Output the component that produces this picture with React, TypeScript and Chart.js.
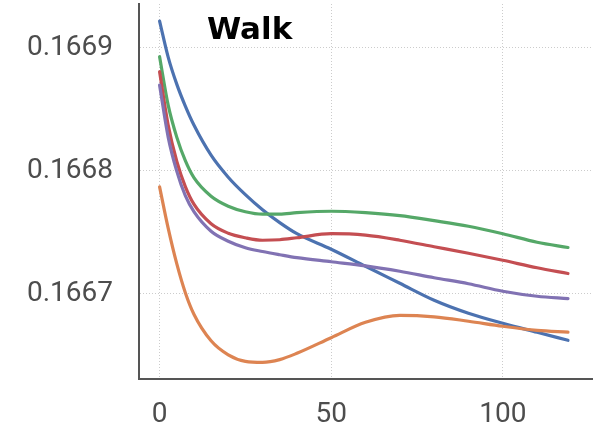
import React, { useEffect, useRef } from "react";
import { Chart, registerables } from "chart.js";

Chart.register(...registerables);

const TITLE = "Walk";
const xValues = [0, 2.5, 5, 7.5, 10, 15, 20, 25, 30, 35, 40, 50, 60, 70, 80, 90, 100, 110, 119];

const blueSeries = [
  0.1669217, 0.1668924, 0.1668704, 0.1668525, 0.1668371, 0.1668126, 0.1667947, 0.1667805, 0.1667682,
  0.1667577, 0.1667487, 0.1667361, 0.1667222, 0.1667084, 0.1666946, 0.166684, 0.1666758, 0.1666685,
  0.166662,
];
const orangeSeries = [
  0.1667868, 0.1667532, 0.1667243, 0.1667007, 0.1666832, 0.1666616, 0.1666502, 0.1666449, 0.1666441,
  0.1666463, 0.1666514, 0.1666641, 0.1666766, 0.1666823, 0.1666811, 0.1666775, 0.1666734, 0.1666701,
  0.1666687,
];
const greenSeries = [
  0.1668927, 0.1668533, 0.1668273, 0.1668081, 0.1667943, 0.1667792, 0.1667711, 0.1667666, 0.1667646,
  0.1667646, 0.1667658, 0.166767, 0.1667658, 0.1667634, 0.1667593, 0.1667548, 0.1667487, 0.1667418,
  0.1667375,
];
const redSeries = [
  0.1668805, 0.1668371, 0.1668077, 0.166787, 0.1667727, 0.1667568, 0.1667491, 0.1667454, 0.1667434,
  0.1667438, 0.1667454, 0.1667487, 0.1667475, 0.1667434, 0.1667381, 0.1667328, 0.1667271, 0.166721,
  0.1667163,
];
const purpleSeries = [
  0.1668696, 0.1668273, 0.1667996, 0.1667796, 0.1667666, 0.1667507, 0.1667426, 0.1667373, 0.1667342,
  0.1667316, 0.1667292, 0.1667259, 0.1667226, 0.1667182, 0.1667129, 0.166708, 0.1667019, 0.1666978,
  0.1666959,
];

const xTicks = [0, 50, 100];
const yTicks = [0.1667, 0.1668, 0.1669];

const series = [
  { name: "blue", data: blueSeries, color: "#4C72B0", order: 5 },
  { name: "orange", data: orangeSeries, color: "#DD8452", order: 4 },
  { name: "green", data: greenSeries, color: "#55A868", order: 3 },
  { name: "red", data: redSeries, color: "#C44E52", order: 2 },
  { name: "purple", data: purpleSeries, color: "#8172B3", order: 1 },
];

const titlePlugin = {
  id: "insideTitle",
  afterDraw(chart: any) {
    const { ctx, chartArea } = chart;
    ctx.save();
    ctx.font = "bold 31px 'DejaVu Sans'";
    ctx.fillStyle = "#000";
    ctx.textAlign = "left";
    ctx.textBaseline = "alphabetic";
    ctx.fillText(TITLE, chartArea.left + 68, chartArea.top + 34.5);
    ctx.restore();
  },
};

export default function App() {
  const ref = useRef<HTMLCanvasElement | null>(null);
  useEffect(() => {
    if (!ref.current) return;
    const chart = new Chart(ref.current, {
      type: "line",
      data: {
        datasets: series.map((s) => ({
          label: s.name,
          data: xValues.map((x, i) => ({ x, y: s.data[i] })),
          borderColor: s.color,
          backgroundColor: s.color,
          borderWidth: 3.2,
          borderCapStyle: "round" as const,
          borderJoinStyle: "round" as const,
          pointRadius: 0,
          cubicInterpolationMode: "monotone" as const,
          fill: false,
          order: s.order,
        })),
      },
      options: {
        animation: false,
        responsive: true,
        maintainAspectRatio: false,
        layout: { padding: { top: 4, right: 2, left: 0, bottom: 0 } },
        plugins: { legend: { display: false }, tooltip: { enabled: false }, title: { display: false } },
        scales: {
          x: {
            type: "linear",
            min: -6,
            max: 126,
            afterBuildTicks: (scale: any) => {
              scale.ticks = xTicks.map((v) => ({ value: v }));
            },
            afterFit: (scale: any) => {
              scale.height = 47;
              scale.paddingLeft = 0;
              scale.paddingRight = 0;
            },
            grid: {
              color: "#cccccc",
              lineWidth: 1,
              drawTicks: false,
              tickLength: 0,
            },
            border: { display: true, color: "#555555", width: 2, dash: [1, 2] },
            ticks: {
              padding: 19,
              color: "#4d4d4d",
              font: { family: "Roboto", size: 28 },
              callback: (v: any) => String(v),
            },
          },
          y: {
            type: "linear",
            min: 0.1666305,
            max: 0.1669356,
            afterBuildTicks: (scale: any) => {
              scale.ticks = yTicks.map((v) => ({ value: v }));
            },
            afterFit: (scale: any) => {
              scale.width = 139;
              scale.paddingTop = 0;
              scale.paddingBottom = 0;
            },
            grid: {
              color: "#cccccc",
              lineWidth: 1,
              drawTicks: false,
              tickLength: 0,
            },
            border: { display: true, color: "#555555", width: 2, dash: [1, 2] },
            ticks: {
              padding: 26,
              color: "#4d4d4d",
              font: { family: "Roboto", size: 28 },
              callback: (v: any) => Number(v).toFixed(4),
            },
          },
        },
      },
      plugins: [titlePlugin],
    });
    return () => chart.destroy();
  }, []);
  return (
    <div style={{ position: "fixed", left: 0, top: 0, width: 594, height: 426, background: "#fff" }}>
      <canvas ref={ref} />
    </div>
  );
}
